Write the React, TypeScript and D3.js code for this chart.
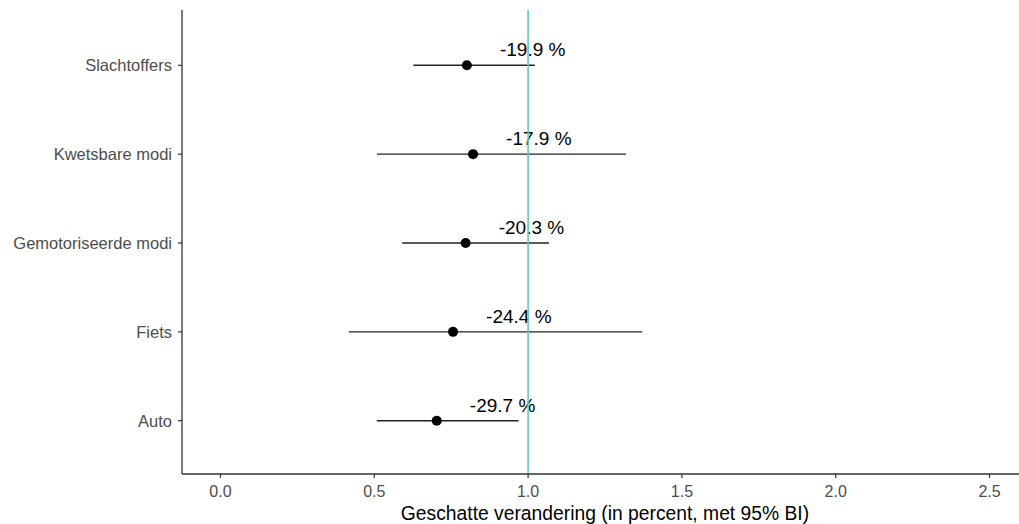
import React from "react";
import * as d3 from "d3";

const categories = ["Slachtoffers", "Kwetsbare modi", "Gemotoriseerde modi", "Fiets", "Auto"];
const estimates = [0.801, 0.821, 0.797, 0.756, 0.703];
const lowers = [0.627, 0.509, 0.591, 0.417, 0.508];
const uppers = [1.022, 1.318, 1.068, 1.371, 0.969];
const labels = ["-19.9 %", "-17.9 %", "-20.3 %", "-24.4 %", "-29.7 %"];
const xTicks = [0, 0.5, 1, 1.5, 2, 2.5];
const refValue = 1;
const xTitle = "Geschatte verandering (in percent, met 95% BI)";

const W = 1019;
const H = 524;
const left = 182;
const right = 1028;
const top = 12;
const bottom = 474;

export default function App() {
  const x = d3.scaleLinear().domain([-0.125, 2.625]).range([left, right]);
  const y = d3.scalePoint<string>().domain(categories).range([top, bottom]).padding(0.6);
  const font = "Arial, 'Liberation Sans', sans-serif";
  return (
    <svg width={W} height={H} style={{ position: "absolute", left: 0, top: 0, background: "#fff" }}>
      {categories.map((c, i) => {
        const yy = y(c)!;
        return (
          <g key={c}>
            <line x1={x(lowers[i])} x2={x(uppers[i])} y1={yy} y2={yy} stroke="#222" strokeWidth={1.4} />
            <circle cx={x(estimates[i])} cy={yy} r={5} fill="#000" />
            <text x={x(estimates[i] + 0.214)} y={yy - 9} textAnchor="middle" fontFamily={font} fontSize={19} fill="#000">
              {labels[i]}
            </text>
          </g>
        );
      })}
      <line x1={x(refValue)} x2={x(refValue)} y1={top - 2} y2={bottom} stroke="#66c7bd" strokeWidth={1.6} />
      {/* axes */}
      <line x1={left} x2={left} y1={top - 2} y2={bottom} stroke="#333" strokeWidth={1.3} />
      <line x1={left} x2={right} y1={bottom} y2={bottom} stroke="#333" strokeWidth={1.3} />
      {categories.map((c) => (
        <g key={"yt" + c}>
          <line x1={left - 4} x2={left} y1={y(c)} y2={y(c)} stroke="#333" strokeWidth={1.2} />
          <text x={left - 10} y={y(c)! + 6} textAnchor="end" fontFamily={font} fontSize={16.5} fill="#4d4d4d">
            {c}
          </text>
        </g>
      ))}
      {xTicks.map((t) => (
        <g key={"xt" + t}>
          <line x1={x(t)} x2={x(t)} y1={bottom} y2={bottom + 4} stroke="#333" strokeWidth={1.2} />
          <text x={x(t)} y={bottom + 23} textAnchor="middle" fontFamily={font} fontSize={16} fill="#4d4d4d">
            {t.toFixed(1)}
          </text>
        </g>
      ))}
      <text x={(left + right) / 2} y={bottom + 46} textAnchor="middle" fontFamily={font} fontSize={19.3} fill="#000">
        {xTitle}
      </text>
    </svg>
  );
}
